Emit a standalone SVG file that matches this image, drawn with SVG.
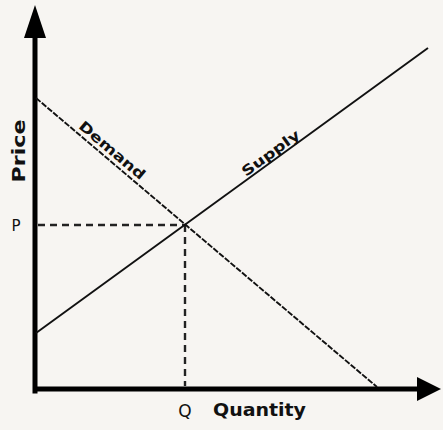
<svg xmlns="http://www.w3.org/2000/svg" width="443" height="430" viewBox="0 0 443 430">
<style>
.axis{stroke:#000;stroke-width:5;fill:none}
.curve{stroke:#111;stroke-width:1.9;fill:none}
.guide{stroke:#222;stroke-width:2.4;fill:none;stroke-dasharray:7,5}
.lbl{font-family:"DejaVu Sans","Open Sans",sans-serif;font-weight:bold;fill:#111}
.tick{font-family:"DejaVu Sans","Open Sans",sans-serif;fill:#111}
</style>
<rect width="443" height="430" fill="#f7f5f2"/>
<g id="axes">
<line class="axis" x1="35" y1="391" x2="35" y2="34" stroke-linecap="square"/>
<polygon points="35,5 24,38 46,38" fill="#000"/>
<line class="axis" x1="33" y1="389" x2="420" y2="389"/>
<polygon points="441,389 417,377 417,401" fill="#000"/>
</g>
<g id="connectors">
<line class="guide" x1="38" y1="225" x2="185" y2="225"/>
<line class="guide" x1="185" y1="225" x2="185" y2="386"/>
<line class="curve" x1="36" y1="98" x2="377" y2="387" stroke-dasharray="6,1.5"/>
<line class="curve" x1="36" y1="333" x2="428" y2="48"/>
</g>
<g id="price-label"><text class="lbl" font-size="18" text-anchor="middle" transform="translate(25,151) rotate(-90)" textLength="63" lengthAdjust="spacingAndGlyphs">Price</text></g>
<g id="quantity-label"><text class="lbl" x="213" y="416" font-size="17" textLength="93" lengthAdjust="spacingAndGlyphs">Quantity</text></g>
<g id="p-label"><text class="tick" x="16" y="231" font-size="15" text-anchor="middle">P</text></g>
<g id="q-label"><text class="tick" x="185" y="417" font-size="17" text-anchor="middle">Q</text></g>
<g id="demand-label"><text class="lbl" font-size="14" text-anchor="middle" transform="translate(109,154) rotate(40.2)" textLength="82" lengthAdjust="spacingAndGlyphs">Demand</text></g>
<g id="supply-label"><text class="lbl" font-size="14" text-anchor="middle" transform="translate(273.5,157) rotate(-35.8)" textLength="68" lengthAdjust="spacingAndGlyphs">Supply</text></g>
</svg>
